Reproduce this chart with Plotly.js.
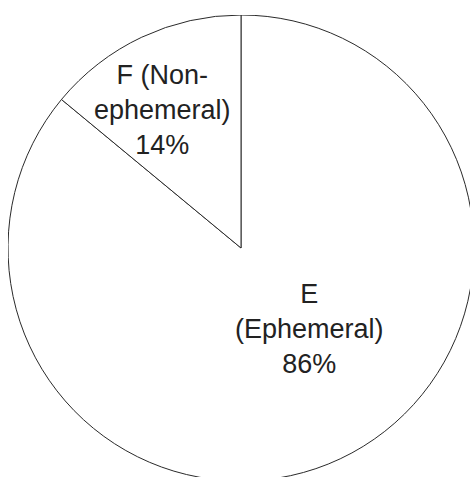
<!DOCTYPE html>
<html>
<head>
<meta charset="utf-8">
<script src="https://cdn.plot.ly/plotly-3.0.1.min.js"></script>
<style>
html, body { margin: 0; padding: 0; overflow: hidden; background: #fff; width: 470px; height: 477px; }
#chart { position: absolute; left: 8px; top: 15px; width: 466px; height: 466px; }
</style>
</head>
<body>
<div id="chart"></div>
<script>
const labels = ["E<br>(Ephemeral)", "F (Non-<br>ephemeral)"];
const values = [86, 14];
const percentText = ["86%", "14%"];
const labelPos = [[0.648, 0.326], [0.3305, 0.796]];

const trace = {
  type: "pie",
  labels: labels,
  values: values,
  sort: false,
  direction: "clockwise",
  rotation: 0,
  textinfo: "none",
  hoverinfo: "skip",
  showlegend: false,
  marker: { colors: ["#ffffff", "#ffffff"], line: { color: "#2a2a2a", width: 1 } },
  domain: { x: [0, 1], y: [0, 1] }
};

const annotations = labels.map((l, i) => ({
  xref: "paper", yref: "paper",
  x: labelPos[i][0], y: labelPos[i][1],
  text: l + "<br>" + percentText[i],
  showarrow: false,
  xanchor: "center", yanchor: "middle",
  align: "center",
  font: { family: "Liberation Sans, Arial, sans-serif", size: 27, color: "#222222" }
}));

Plotly.newPlot("chart", [trace], {
  width: 466, height: 466,
  margin: { l: 0, r: 0, t: 0, b: 0 },
  paper_bgcolor: "rgba(0,0,0,0)",
  plot_bgcolor: "rgba(0,0,0,0)",
  annotations: annotations
}, { displayModeBar: false, staticPlot: true });
</script>
</body>
</html>
